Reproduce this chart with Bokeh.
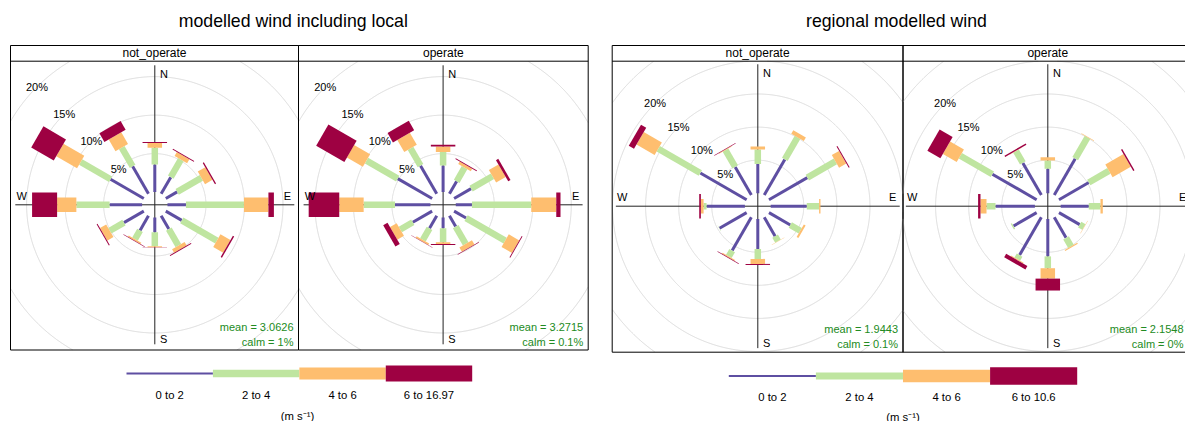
import numpy as np
from bokeh.plotting import figure
from bokeh.layouts import row
from bokeh.models import Range1d
from bokeh.core.properties import value
from bokeh.embed import file_html
from bokeh.resources import INLINE

# ---------------------------------------------------------------- data
directions = [0, 30, 60, 90, 120, 150, 180, 210, 240, 270, 300, 330]
panel_names = ["not_operate", "operate"]
speed_colours = ["#5E4FA2", "#BFE5A0", "#FEBE6F", "#9E0142"]
local_speed_labels = ["0 to 2", "2 to 4", "4 to 6", "6 to 16.97"]
regional_speed_labels = ["0 to 2", "2 to 4", "4 to 6", "6 to 10.6"]
grid_pct = [5, 10, 15, 20, 25, 30]
grid_label_pct = [5, 10, 15, 20]
compass = ["N", "E", "S", "W"]
units_label = "(m s\u207b\u00b9)"

# frequency (%) by direction (rows) and speed interval (columns)
local_not_operate = [
    [3.60, 2.17, 0.61, 0.13],
    [2.50, 2.62, 0.59, 0.13],
    [1.71, 3.63, 1.12, 0.16],
    [2.40, 7.53, 3.18, 0.71],
    [2.40, 5.26, 1.49, 0.19],
    [2.00, 2.47, 0.52, 0.13],
    [1.92, 1.80, 0.14, 0.03],
    [2.19, 1.30, 0.21, 0.06],
    [2.98, 2.12, 0.93, 0.13],
    [4.22, 4.32, 2.50, 3.25],
    [4.99, 4.48, 3.12, 3.38],
    [4.12, 2.82, 1.75, 1.30],
]
local_operate = [
    [3.47, 1.74, 0.73, 0.22],
    [1.88, 2.04, 0.37, 0.12],
    [2.55, 3.21, 1.44, 0.34],
    [2.10, 7.70, 3.25, 0.55],
    [1.80, 5.86, 1.57, 0.11],
    [1.62, 2.60, 0.64, 0.07],
    [1.40, 1.81, 0.23, 0.13],
    [1.88, 1.72, 0.23, 0.06],
    [2.90, 1.87, 1.00, 0.65],
    [4.60, 4.07, 3.17, 3.97],
    [5.16, 4.68, 2.40, 4.23],
    [4.22, 2.59, 1.82, 1.40],
]
regional_not_operate = [
    [4.44, 2.18, 0.45, 0.00],
    [6.21, 3.84, 0.63, 0.00],
    [6.69, 4.90, 1.26, 0.15],
    [5.45, 1.86, 0.21, 0.00],
    [3.72, 1.73, 0.31, 0.00],
    [3.28, 0.87, 0.05, 0.00],
    [4.50, 1.51, 0.76, 0.15],
    [5.79, 1.02, 0.15, 0.10],
    [4.73, 0.04, 0.00, 0.00],
    [5.79, 0.45, 0.41, 0.25],
    [8.08, 7.34, 3.16, 0.91],
    [4.89, 2.93, 0.12, 0.08],
]
regional_operate = [
    [3.69, 1.27, 0.49, 0.00],
    [6.33, 3.72, 0.09, 0.00],
    [5.20, 3.52, 3.17, 0.21],
    [4.24, 1.77, 0.35, 0.00],
    [3.62, 0.73, 0.05, 0.00],
    [3.56, 1.49, 0.18, 0.00],
    [5.63, 1.79, 1.57, 1.80],
    [6.57, 0.70, 0.15, 0.60],
    [4.03, 0.21, 0.00, 0.00],
    [5.95, 1.36, 0.91, 0.36],
    [7.72, 5.59, 2.41, 2.27],
    [5.60, 2.06, 0.06, 0.20],
]
local_mean = [3.0626, 3.2715]
local_calm = [1, 0.1]
regional_mean = [1.9443, 2.1548]
regional_calm = [0.1, 0]

# ---------------------------------------------------------------- layout (page pixels)
FONT = value("Liberation Sans")
PAGE_TOP = 0
FIG_H = 421
PADDLE_PX = [3.0, 6.5, 14.5, 24.5]

local_layout = dict(
    fig_x0=0, fig_w=603, k=7.7, cx=[154.3, 442.6], cy=204.3,
    box_x=[10, 298, 587.7], box_top=45, strip_bottom=60.7, box_bottom=349.5,
    title_xy=(292.8, 20),
    leg_x=(126, 471.7), leg_y=373, leg_th=[2.2, 7.3, 12, 16], leg_lab_y=394.3,
    units_xy=(297, 415),
)
regional_layout = dict(
    fig_x0=603, fig_w=582, k=6.62, cx=[757.3, 1047.3], cy=205.7,
    box_x=[611.7, 902.5, 1192], box_top=45, strip_bottom=60.7, box_bottom=351.7,
    title_xy=(896, 20),
    leg_x=(728.3, 1076.7), leg_y=375.5, leg_th=[2.2, 7, 12.7, 17.3], leg_lab_y=396.7,
    units_xy=(902.5, 416),
)


def txt(p, x, y, t, size, color="black", align="center"):
    p.text(x=[x], y=[y], text=[t], text_font=FONT, text_font_size=value(size),
           text_color=color, text_align=align, text_baseline="middle")


def wind_rose(title, panels, means, calms, speed_labels, L):
    k, cy = L["k"], L["cy"]
    cx0 = L["cx"][0]

    def X(px):
        return (px - cx0) / k

    def Y(py):
        return (cy - py) / k

    fw = L["fig_w"]
    fig_right = L["fig_x0"] + fw
    p = figure(width=fw, height=FIG_H,
               x_range=Range1d(X(L["fig_x0"]), X(fig_right)),
               y_range=Range1d(Y(PAGE_TOP + FIG_H), Y(PAGE_TOP)),
               output_backend="svg", toolbar_location=None, title=None,
               min_border=0, x_axis_location=None, y_axis_location=None)
    p.grid.visible = False
    p.outline_line_color = None
    p.background_fill_color = "white"
    p.border_fill_color = "white"

    max_freq = max(sum(r) for panel in panels for r in panel)
    off = 0.1 * max_freq
    A = max_freq + off

    for i, data in enumerate(panels):
        ox = X(L["cx"][i])
        bx0, bx1 = X(L["box_x"][i]), X(L["box_x"][i + 1])
        yb, ys_, yt = Y(L["box_bottom"]), Y(L["strip_bottom"]), Y(L["box_top"])

        # grid circles clipped to the panel
        th = np.linspace(0, 2 * np.pi, 1441)
        for g in grid_pct:
            R = g + off
            gx = R * np.sin(th) + ox
            gy = R * np.cos(th)
            m = (gx < bx0) | (gx > bx1) | (gy < yb) | (gy > ys_)
            gx[m] = np.nan
            gy[m] = np.nan
            p.line(gx, gy, line_color="#D9D9D9", line_width=1)

        # compass axes
        p.segment(x0=[ox - A, ox], y0=[0, -A], x1=[ox + A, ox], y1=[0, A],
                  line_color="#222222", line_width=1)

        # paddles
        for j, col in enumerate(speed_colours):
            hw = PADDLE_PX[j] / k / 2
            pxs, pys = [], []
            for d, freqs in zip(directions, data):
                lo = sum(freqs[:j]) + off
                hi = lo + freqs[j]
                if freqs[j] <= 0:
                    continue
                t = np.radians(d)
                s, c = np.sin(t), np.cos(t)
                pxs.append([ox + lo * s - hw * c, ox + lo * s + hw * c,
                            ox + hi * s + hw * c, ox + hi * s - hw * c])
                pys.append([lo * c + hw * s, lo * c - hw * s,
                            hi * c - hw * s, hi * c + hw * s])
            p.patches(pxs, pys, fill_color=col, line_color=None)

        # percentage labels along 315 degrees (on top of the paddles)
        for g in grid_label_pct:
            R = g + off
            txt(p, ox - R * np.sin(np.pi / 4), R * np.cos(np.pi / 4), f"{g}%", "11px")

        # compass labels
        pos = [(0.065 * A, 0.94 * A), (0.95 * A, 0.062 * A),
               (0.063 * A, -0.965 * A), (-0.955 * A, 0.062 * A)]
        for lab, (lx, ly) in zip(compass, pos):
            txt(p, ox + lx, ly, lab, "11px")

        # panel box + strip
        p.quad(left=[bx0], right=[bx1], bottom=[yb], top=[yt],
               fill_color=None, line_color="black", line_width=1)
        p.segment(x0=[bx0], y0=[ys_], x1=[bx1], y1=[ys_], line_color="black", line_width=1)
        txt(p, (bx0 + bx1) / 2, Y((L["box_top"] + L["strip_bottom"]) / 2), panel_names[i], "12px")

        # mean / calm (kept inside the page)
        rx = X(min(L["box_x"][i + 1] - 5, fig_right - 2))
        txt(p, rx, Y(L["box_bottom"] - 23.5), f"mean = {means[i]:g}", "11px", "#228B22", "right")
        txt(p, rx, Y(L["box_bottom"] - 7.8), f"calm = {calms[i]:g}%", "11px", "#228B22", "right")

    # title
    txt(p, X(L["title_xy"][0]), Y(L["title_xy"][1]), title, "17.7px")

    # legend
    lx0, lx1 = L["leg_x"]
    seg = (lx1 - lx0) / len(speed_colours)
    for j, col in enumerate(speed_colours):
        th_ = L["leg_th"][j]
        p.quad(left=[X(lx0 + j * seg)], right=[X(lx0 + (j + 1) * seg)],
               bottom=[Y(L["leg_y"] + th_ / 2)], top=[Y(L["leg_y"] - th_ / 2)],
               fill_color=col, line_color=None)
        txt(p, X(lx0 + (j + 0.5) * seg), Y(L["leg_lab_y"]), speed_labels[j], "11.3px")
    txt(p, X(L["units_xy"][0]), Y(L["units_xy"][1]), units_label, "11.3px")
    return p


p_left = wind_rose("modelled wind including local", [local_not_operate, local_operate],
                   local_mean, local_calm, local_speed_labels, local_layout)
p_right = wind_rose("regional modelled wind", [regional_not_operate, regional_operate],
                    regional_mean, regional_calm, regional_speed_labels, regional_layout)

page = row(p_left, p_right, spacing=0)
open("out.html", "w").write(file_html(page, INLINE))
